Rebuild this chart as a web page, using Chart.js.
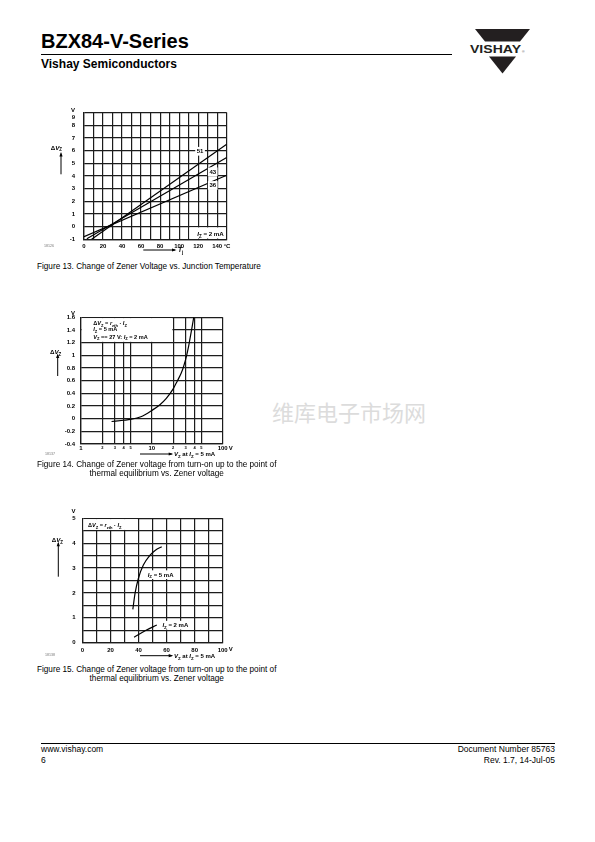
<!DOCTYPE html>
<html>
<head>
<meta charset="utf-8">
<script src="https://cdn.jsdelivr.net/npm/chart.js@4.4.0/dist/chart.umd.min.js"></script>
<style>
  body { margin: 0; background: #fff; }
  #page { position: relative; width: 595px; height: 842px; overflow: hidden; color: #000;
          font-family: "Liberation Sans", Arial, sans-serif; }
  .abs { position: absolute; white-space: nowrap; line-height: 1; }
  .cap { font-size: 8.2px; line-height: 8.5px; text-align: center; }
  .foot { font-size: 8.5px; }
  canvas { position: absolute; }
</style>
</head>
<body>
<div id="page">
  <div class="abs" style="left:41px;top:31.4px;font-size:20px;font-weight:bold">BZX84-V-Series</div>
  <div class="abs" style="left:41px;top:53.5px;width:411px;height:1px;background:#000"></div>
  <div class="abs" style="left:41px;top:57.6px;font-size:12px;font-weight:bold">Vishay Semiconductors</div>

  <svg class="abs" style="left:465px;top:25px" width="75" height="55" viewBox="465 25 75 55">
    <polygon points="475,29 530,29 520,41.5 485,41.5" fill="#231f20"/>
    <polygon points="489,56.5 516,56.5 502.5,73.5" fill="#231f20"/>
    <text x="470" y="53.3" font-family="Liberation Sans, Arial" font-weight="bold" font-size="11.5"
          textLength="51" lengthAdjust="spacingAndGlyphs" fill="#231f20">VISHAY</text>
    <text x="522" y="53" font-family="Liberation Sans, Arial" font-size="3.5" fill="#555">®</text>
  </svg>

  <canvas id="fig13" width="200" height="160" style="left:40px;top:100px;width:200px;height:160px"></canvas>
  <div class="abs cap" style="left:37px;top:263.2px">Figure 13. Change of Zener Voltage vs. Junction Temperature</div>

  <canvas id="fig14" width="200" height="160" style="left:40px;top:305px;width:200px;height:160px"></canvas>
  <div class="abs cap" style="left:37px;top:461.2px">Figure 14. Change of Zener voltage from turn-on up to the point of<br>thermal equilibrium vs. Zener voltage</div>

  <div class="abs" style="left:272px;top:400px;font-size:22px;color:#dcdcdc;font-family:'Noto Sans CJK SC',sans-serif">维库电子市场网</div>

  <canvas id="fig15" width="200" height="160" style="left:40px;top:505px;width:200px;height:160px"></canvas>
  <div class="abs cap" style="left:37px;top:666.2px">Figure 15. Change of Zener voltage from turn-on up to the point of<br>thermal equilibrium vs. Zener voltage</div>

  <div class="abs" style="left:41px;top:742.5px;width:514px;height:1px;background:#000"></div>
  <div class="abs foot" style="left:41px;top:745px">www.vishay.com</div>
  <div class="abs foot" style="left:41px;top:756px">6</div>
  <div class="abs foot" style="right:40px;top:745px">Document Number 85763</div>
  <div class="abs foot" style="right:40px;top:756px">Rev. 1.7, 14-Jul-05</div>
</div>

<script>
// Figure 13: change of Vz vs junction temperature (Iz = 2 mA)
const tjTicks = [0, 10, 20, 30, 40, 50, 60, 70, 80, 90, 100, 110, 120, 130, 140, 150];
const tjLabels = ['0', '', '20', '', '40', '', '60', '', '80', '', '100', '', '120', '', '140', ''];
const dv13Ticks = [-1, 0, 1, 2, 3, 4, 5, 6, 7, 8, 9];
const dv13Labels = ['-1', '0', '1', '2', '3', '4', '5', '6', '7', '8', '9'];
const vz51Tj = [8, 150];
const vz51Dv = [-1, 6.5];
const vz43Tj = [3, 150];
const vz43Dv = [-0.95, 5.45];
const vz36Tj = [0, 150];
const vz36Dv = [-0.8, 4.05];
const names13 = ['51', '43', '36'];
const nameTj13 = [122, 135.3, 135.3];
const nameDv13 = [5.96, 4.34, 3.26];

// Figure 14: delta Vz (turn-on to thermal equilibrium) vs Vz, log axis
const vz14Ticks = [1, 2, 3, 4, 5, 10, 20, 30, 40, 50, 100];
const vz14Labels = ['1', '2', '3', '4', '5', '10', '2', '3', '4', '5', '100'];
const dv14Ticks = [-0.4, -0.2, 0, 0.2, 0.4, 0.6, 0.8, 1, 1.2, 1.4, 1.6];
const dv14Labels = ['-0.4', '-0.2', '0', '0.2', '0.4', '0.6', '0.8', '1', '1.2', '1.4', '1.6'];
const curve14Vz = [2.7, 4, 5, 7, 10, 13, 16, 20, 23, 26, 28, 31, 33, 35, 37, 39];
const curve14Dv = [-0.045, -0.025, -0.012, 0.03, 0.13, 0.22, 0.32, 0.47, 0.6, 0.72, 0.82, 1.0, 1.14, 1.3, 1.45, 1.6];

// Figure 15: same, linear axis, Iz = 5 mA and 2 mA
const vz15Ticks = [0, 10, 20, 30, 40, 50, 60, 70, 80, 90, 100];
const vz15Labels = ['0', '', '20', '', '40', '', '60', '', '80', '', '100'];
const dv15Ticks = [0, 0.5, 1, 1.5, 2, 2.5, 3, 3.5, 4, 4.5, 5];
const dv15Labels = ['0', '', '1', '', '2', '', '3', '', '4', '', '5'];
const iz5Vz = [35.9, 37.5, 39.9, 43.4, 48.2, 52, 56.5];
const iz5Dv = [1.34, 1.99, 2.59, 3.12, 3.52, 3.72, 3.86];
const iz2Vz = [36.8, 44.7, 53];
const iz2Dv = [0.22, 0.48, 0.71];

const FAM = '"Liberation Sans", Arial, sans-serif';
const INK = '#1c1c1c';

function pts(xs, ys) {
  return xs.map((x, i) => ({ x: x, y: ys[i] }));
}

// draws text made of parts: [text, kind] kind '' | 'i' italic | 's' subscript
function rich(ctx, parts, x, y, size, align) {
  const fontFor = k => (k === 'i' ? 'italic ' : '') + 'bold ' + (k === 's' ? size * 0.72 : size) + 'px ' + FAM;
  let w = 0;
  parts.forEach(p => { ctx.font = fontFor(p[1]); w += ctx.measureText(p[0]).width; });
  let cx = align === 'center' ? x - w / 2 : align === 'right' ? x - w : x;
  ctx.textAlign = 'left';
  ctx.textBaseline = 'alphabetic';
  ctx.fillStyle = '#000';
  parts.forEach(p => {
    ctx.font = fontFor(p[1]);
    ctx.fillText(p[0], cx, p[1] === 's' ? y + size * 0.3 : y);
    cx += ctx.measureText(p[0]).width;
  });
  return w;
}

function arrow(ctx, x1, y1, x2, y2) {
  ctx.save();
  ctx.strokeStyle = '#000';
  ctx.fillStyle = '#000';
  ctx.lineWidth = 1;
  ctx.beginPath();
  ctx.moveTo(x1, y1);
  ctx.lineTo(x2, y2);
  ctx.stroke();
  const a = Math.atan2(y2 - y1, x2 - x1);
  ctx.beginPath();
  ctx.moveTo(x2 + Math.cos(a) * 1.5, y2 + Math.sin(a) * 1.5);
  ctx.lineTo(x2 - Math.cos(a) * 3 - Math.sin(a) * 1.6, y2 - Math.sin(a) * 3 + Math.cos(a) * 1.6);
  ctx.lineTo(x2 - Math.cos(a) * 3 + Math.sin(a) * 1.6, y2 - Math.sin(a) * 3 - Math.cos(a) * 1.6);
  ctx.closePath();
  ctx.fill();
  ctx.restore();
}

function small(ctx, txt, x, y, size, color, align) {
  ctx.font = size + 'px ' + FAM;
  ctx.fillStyle = color || '#000';
  ctx.textAlign = align || 'left';
  ctx.textBaseline = 'middle';
  ctx.fillText(txt, x, y);
}

// white cell inside the grid, keeps the surrounding grid lines
function blank(chart, x1, x2, y1, y2) {
  const sx = chart.scales.x, sy = chart.scales.y, ctx = chart.ctx;
  const l = sx.getPixelForValue(x1), r = sx.getPixelForValue(x2);
  const t = sy.getPixelForValue(y2), b = sy.getPixelForValue(y1);
  ctx.fillStyle = '#fff';
  ctx.fillRect(l + 0.8, t + 0.8, r - l - 1.6, b - t - 1.6);
}

function tag(chart, parts, xv, yv, size, align) {
  const ctx = chart.ctx;
  const x = chart.scales.x.getPixelForValue(xv), y = chart.scales.y.getPixelForValue(yv);
  let w = 0;
  parts.forEach(p => {
    ctx.font = (p[1] === 'i' ? 'italic ' : '') + 'bold ' + (p[1] === 's' ? size * 0.72 : size) + 'px ' + FAM;
    w += ctx.measureText(p[0]).width;
  });
  const left = align === 'center' ? x - w / 2 : x;
  ctx.fillStyle = '#fff';
  ctx.fillRect(left - 1.5, y - size * 0.7, w + 3, size * 1.45);
  rich(ctx, parts, left, y + size * 0.35, size, 'left');
}

function axis(o) {
  return {
    type: o.type || 'linear',
    min: o.min,
    max: o.max,
    afterBuildTicks: s => { s.ticks = o.ticks.map(v => ({ value: v })); },
    afterFit: s => { if (o.y) s.width = o.size; else s.height = o.size; },
    grid: { color: INK, lineWidth: 1.2, drawTicks: false },
    border: { color: INK, width: 1.3 },
    ticks: {
      autoSkip: false,
      maxRotation: 0,
      padding: o.pad,
      color: '#000',
      font: o.font || { family: FAM, size: 6, weight: 'bold' },
      // the top label is placed by hand when it has to sit below the unit
      callback: (v, i) => (o.dropTop && i === o.labels.length - 1) ? '' : o.labels[i]
    }
  };
}

function line(data, smooth) {
  return {
    data: data,
    showLine: true,
    pointRadius: 0,
    borderColor: '#000',
    borderWidth: 1.2,
    cubicInterpolationMode: smooth ? 'monotone' : 'default',
    tension: 0
  };
}

const base = {
  responsive: false,
  animation: false,
  plugins: { legend: { display: false }, tooltip: { enabled: false } }
};

// ---- Figure 13
new Chart(document.getElementById('fig13').getContext('2d'), {
  type: 'scatter',
  data: {
    datasets: [
      line(pts(vz51Tj, vz51Dv)),
      line(pts(vz43Tj, vz43Dv)),
      line(pts(vz36Tj, vz36Dv))
    ]
  },
  options: Object.assign({}, base, {
    layout: { padding: { top: 10, right: 13.3, bottom: 8.7, left: 0 } },
    scales: {
      x: axis({ min: 0, max: 150, ticks: tjTicks, labels: tjLabels, size: 12, pad: 3 }),
      y: axis({ min: -1, max: 9, ticks: dv13Ticks, labels: dv13Labels, size: 44, pad: 9, y: true, dropTop: true })
    }
  }),
  plugins: [{
    id: 'deco13',
    beforeDatasetsDraw(chart) {
      blank(chart, 110, 150, -1, 0);
    },
    afterDatasetsDraw(chart) {
      names13.forEach((n, i) => tag(chart, [[n, '']], nameTj13[i], nameDv13[i], 6, 'center'));
      const ca = chart.chartArea, ctx = chart.ctx;
      rich(ctx, [['I', 'i'], ['Z', 's'], [' = 2 mA', '']], chart.scales.x.getPixelForValue(133), chart.scales.y.getPixelForValue(-0.54) + 2.2, 6.2, 'center');
      rich(ctx, [['V', '']], ca.left - 9, ca.top - 0.6, 6, 'right');
      rich(ctx, [[dv13Labels[dv13Labels.length - 1], '']], ca.left - 9, ca.top + 6.2, 6, 'right');
      rich(ctx, [['\u0394', ''], ['V', 'i'], ['Z', 's']], ca.left - 33.3, ca.top + 37, 6.2, 'left');
      arrow(ctx, ca.left - 23, ca.top + 61.7, ca.left - 23, ca.top + 41);
      small(ctx, '18126', ca.left - 40, ca.bottom + 7, 3.6, '#777');
      arrow(ctx, ca.left + 59.3, ca.bottom + 10.7, ca.left + 91, ca.bottom + 10.7);
      rich(ctx, [['T', 'i'], ['j', 's']], ca.left + 94, ca.bottom + 12.8, 6.5, 'left');
      rich(ctx, [['\u00b0C', '']], chart.scales.x.getPixelForValue(140) + 6.5, ca.bottom + 8.2, 6, 'left');
    }
  }]
});

// ---- Figure 14
new Chart(document.getElementById('fig14').getContext('2d'), {
  type: 'scatter',
  data: { datasets: [line(pts(curve14Vz, curve14Dv), true)] },
  options: Object.assign({}, base, {
    layout: { padding: { top: 12.3, right: 17.3, bottom: 10, left: 0 } },
    scales: {
      x: axis({
        type: 'logarithmic', min: 1, max: 100, ticks: vz14Ticks, labels: vz14Labels, size: 11, pad: 1,
        font: c => ({ family: FAM, size: [1, 10, 100].includes(c.tick && c.tick.value) ? 6 : 4, weight: 'bold' })
      }),
      y: axis({ min: -0.4, max: 1.6, ticks: dv14Ticks, labels: dv14Labels, size: 41, pad: 6, y: true })
    }
  }),
  plugins: [{
    id: 'deco14',
    beforeDatasetsDraw(chart) {
      blank(chart, 1, 20, 1.2, 1.6);
    },
    afterDatasetsDraw(chart) {
      const ca = chart.chartArea, ctx = chart.ctx;
      rich(ctx, [['\u0394', ''], ['V', 'i'], ['Z', 's'], [' = ', ''], ['r', 'i'], ['zth', 's'], [' \u00b7 ', ''], ['I', 'i'], ['Z', 's']], ca.left + 12.3, ca.top + 8, 5.6, 'left');
      rich(ctx, [['I', 'i'], ['Z', 's'], [' = 5 mA', '']], ca.left + 12.3, ca.top + 14, 5.6, 'left');
      rich(ctx, [['V', 'i'], ['Z', 's'], [' == 27 V: ', ''], ['I', 'i'], ['Z', 's'], [' = 2 mA', '']], ca.left + 12.3, ca.top + 21.5, 5.6, 'left');
      rich(ctx, [['V', '']], ca.left - 6, ca.top - 2.3, 6, 'right');
      rich(ctx, [['\u0394', ''], ['V', 'i'], ['Z', 's']], ca.left - 31, ca.top + 36.4, 6.2, 'left');
      arrow(ctx, ca.left - 23.3, ca.top + 58.7, ca.left - 23.3, ca.top + 37.7);
      small(ctx, '18137', ca.left - 36, ca.bottom + 10, 3.6, '#777');
      arrow(ctx, ca.left + 59, ca.bottom + 10, ca.left + 90.7, ca.bottom + 10);
      rich(ctx, [['V', 'i'], ['Z', 's'], [' at ', ''], ['I', 'i'], ['Z', 's'], [' = 5 mA', '']], ca.left + 93, ca.bottom + 12, 6, 'left');
      rich(ctx, [['V', '']], chart.scales.x.getPixelForValue(100) + 6, ca.bottom + 6.2, 6, 'left');
    }
  }]
});

// ---- Figure 15
new Chart(document.getElementById('fig15').getContext('2d'), {
  type: 'scatter',
  data: {
    datasets: [
      line(pts(iz5Vz, iz5Dv), true),
      line(pts(iz2Vz, iz2Dv), true)
    ]
  },
  options: Object.assign({}, base, {
    layout: { padding: { top: 13.3, right: 17.3, bottom: 10.3, left: 0 } },
    scales: {
      x: axis({ min: 0, max: 100, ticks: vz15Ticks, labels: vz15Labels, size: 12, pad: 4.5 }),
      y: axis({ min: 0, max: 5, ticks: dv15Ticks, labels: dv15Labels, size: 42.5, pad: 7, y: true })
    }
  }),
  plugins: [{
    id: 'deco15',
    beforeDatasetsDraw(chart) {
      blank(chart, 0, 40, 4.5, 5);
    },
    afterDatasetsDraw(chart) {
      const ca = chart.chartArea, ctx = chart.ctx;
      tag(chart, [['I', 'i'], ['Z', 's'], [' = 5 mA', '']], 46.5, 2.74, 6, 'left');
      tag(chart, [['I', 'i'], ['Z', 's'], [' = 2 mA', '']], 57, 0.71, 6, 'left');
      rich(ctx, [['\u0394', ''], ['V', 'i'], ['Z', 's'], [' = ', ''], ['r', 'i'], ['zth', 's'], [' \u00b7 ', ''], ['I', 'i'], ['Z', 's']], ca.left + 5.5, ca.top + 8.7, 5.6, 'left');
      rich(ctx, [['V', '']], ca.left - 7, ca.top - 5.2, 6, 'right');
      rich(ctx, [['\u0394', ''], ['V', 'i'], ['Z', 's']], ca.left - 30.8, ca.top + 23.7, 6.2, 'left');
      arrow(ctx, ca.left - 24.2, ca.top + 58.4, ca.left - 24.2, ca.top + 25);
      small(ctx, '18138', ca.left - 37.5, ca.bottom + 12.3, 3.6, '#777');
      arrow(ctx, ca.left + 57.5, ca.bottom + 13, ca.left + 89.2, ca.bottom + 13);
      rich(ctx, [['V', 'i'], ['Z', 's'], [' at ', ''], ['I', 'i'], ['Z', 's'], [' = 5 mA', '']], ca.left + 91.5, ca.bottom + 15, 6, 'left');
      rich(ctx, [['V', '']], chart.scales.x.getPixelForValue(100) + 6, ca.bottom + 8.7, 6, 'left');
    }
  }]
});
</script>
</body>
</html>
